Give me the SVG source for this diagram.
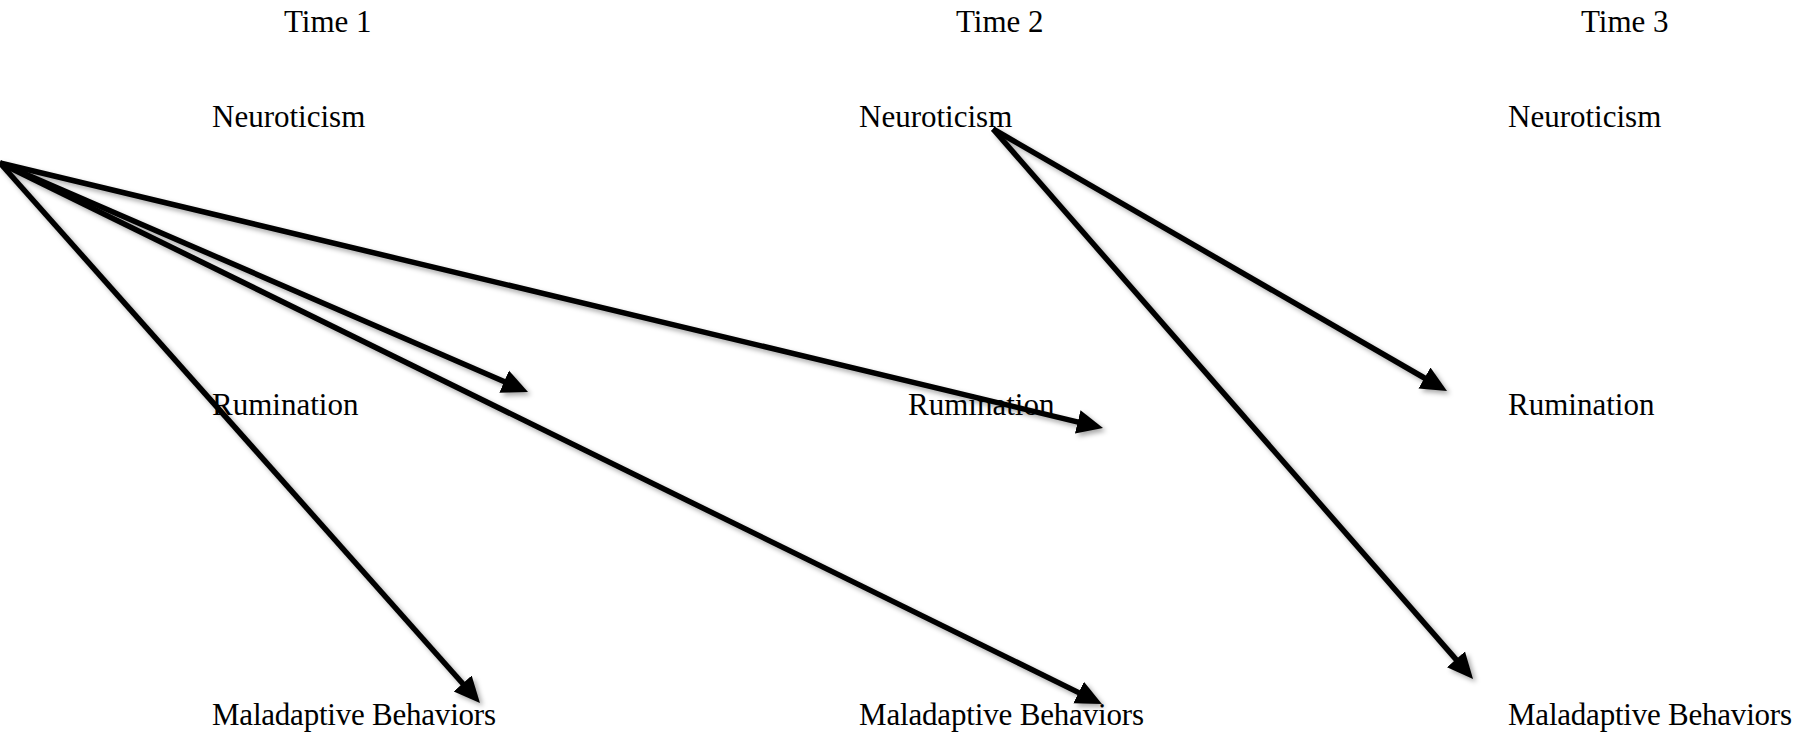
<svg xmlns="http://www.w3.org/2000/svg" width="1804" height="737" viewBox="0 0 1804 737">
<style>
text{font-family:"Liberation Serif","Times New Roman",serif;font-size:31px;fill:#000}
.c line{stroke:#000;stroke-width:5.5;fill:none;marker-end:url(#ah)}
</style>
<defs>
<marker id="ah" markerUnits="userSpaceOnUse" markerWidth="28" markerHeight="26" viewBox="0 -13 28 26" refX="8" refY="0" orient="auto"><path d="M0,-12 L26,0 L0,12 z" fill="#000"/></marker>
<filter id="sh" x="-10%" y="-10%" width="120%" height="130%"><feDropShadow dx="3" dy="3" stdDeviation="2.5" flood-color="#000" flood-opacity="0.35"/></filter>
</defs>
<rect width="1804" height="737" fill="#fff"/>
<g id="headers">
<text id="time1" x="284" y="32">Time 1</text>
<text id="time2" x="956" y="32">Time 2</text>
<text id="time3" x="1581" y="32">Time 3</text>
</g>
<g id="n1"><text x="212" y="127">Neuroticism</text></g>
<g id="n2"><text x="859" y="127">Neuroticism</text></g>
<g id="n3"><text x="1508" y="127">Neuroticism</text></g>
<g id="r1"><text x="212" y="415">Rumination</text></g>
<g id="r2"><text x="908" y="415">Rumination</text></g>
<g id="r3"><text x="1508" y="415">Rumination</text></g>
<g id="m1"><text x="212" y="725" textLength="284">Maladaptive Behaviors</text></g>
<g id="m2"><text x="859" y="725" textLength="285">Maladaptive Behaviors</text></g>
<g id="m3"><text x="1508" y="725" textLength="284">Maladaptive Behaviors</text></g>
<g id="connectors" class="c" filter="url(#sh)">
<line x1="0" y1="163" x2="511.5" y2="384.8"/>
<line x1="0" y1="163" x2="1085.5" y2="423.8"/>
<line x1="0" y1="163" x2="468" y2="689.5"/>
<line x1="0" y1="163" x2="1085.8" y2="696.1"/>
<line x1="993" y1="129" x2="1431.4" y2="382"/>
<line x1="993" y1="129" x2="1461.2" y2="665.4"/>
</g>
</svg>
